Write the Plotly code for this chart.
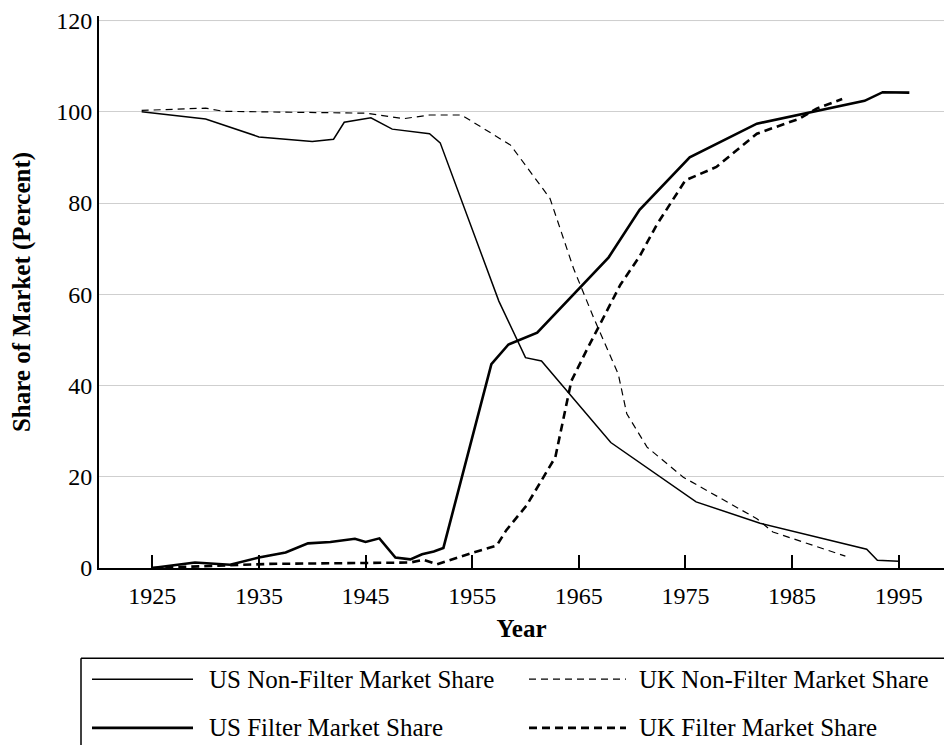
import plotly.graph_objects as go

# market share series (year, percent)
us_nonfilter_years = [1924, 1930, 1935, 1940, 1942, 1943, 1945.5, 1947.5, 1951, 1952,
                      1957.5, 1958.6, 1960, 1961.5, 1968, 1976, 1982, 1992, 1993, 1995]
us_nonfilter_share = [100, 98.4, 94.5, 93.5, 94.0, 97.7, 98.7, 96.2, 95.2, 93.2,
                      58.5, 53.0, 46.1, 45.4, 27.5, 14.5, 9.8, 4.1, 1.7, 1.5]

us_filter_years = [1925, 1929, 1932.3, 1935, 1937.5, 1939.6, 1941.7, 1944, 1945, 1946.3,
                   1947.8, 1949.2, 1950.3, 1951.4, 1952.3, 1956.8, 1958.4, 1961.1, 1967.8,
                   1970.7, 1975.4, 1981.7, 1991.8, 1993.5, 1996]
us_filter_share = [0, 1.2, 0.7, 2.3, 3.4, 5.4, 5.7, 6.4, 5.7, 6.5,
                   2.3, 1.9, 3.0, 3.6, 4.4, 44.7, 49.0, 51.6, 68.1,
                   78.5, 90.0, 97.4, 102.4, 104.3, 104.2]

uk_nonfilter_years = [1924, 1930, 1931.7, 1945, 1948.6, 1951, 1954, 1958.6, 1962.3, 1964.5,
                      1966.4, 1968.7, 1969.5, 1971.4, 1974.8, 1981.7, 1983.2, 1990]
uk_nonfilter_share = [100.3, 100.8, 100.1, 99.7, 98.5, 99.3, 99.3, 92.7, 81.0, 65.7,
                      54.8, 42.5, 33.8, 26.5, 19.9, 10.8, 7.9, 2.6]

uk_filter_years = [1925, 1932, 1936, 1949.2, 1950.4, 1951.7, 1955.1, 1957.3, 1958.2, 1960.1,
                   1962.8, 1964.3, 1965.7, 1968.9, 1970.7, 1972.3, 1975, 1977.9, 1981.7,
                   1985.7, 1987.3, 1989.7]
uk_filter_share = [0, 0.5, 0.9, 1.2, 1.8, 0.8, 3.4, 4.9, 8.3, 13.7,
                   24.3, 41.0, 47.6, 62.1, 68.3, 75.2, 85.0, 87.9, 95.2,
                   98.5, 100.7, 102.8]

year_ticks = [1925, 1935, 1945, 1955, 1965, 1975, 1985, 1995]
share_ticks = [0, 20, 40, 60, 80, 100, 120]

FONT = "Liberation Serif"
GRID = "#cfcfcf"

series = [
    ("US Non-Filter Market Share", us_nonfilter_years, us_nonfilter_share, 1.5, "solid"),
    ("UK Non-Filter Market Share", uk_nonfilter_years, uk_nonfilter_share, 1.2, "7px,5px"),
    ("US Filter Market Share", us_filter_years, us_filter_share, 2.6, "solid"),
    ("UK Filter Market Share", uk_filter_years, uk_filter_share, 2.6, "8px,5px"),
]

fig = go.Figure()
for name, xs, ys, w, dash in series:
    fig.add_trace(go.Scatter(x=xs, y=ys, mode="lines", name=name,
                             line=dict(color="black", width=w, dash=dash)))

# page body has an 8px margin; keep the figure inside the window so no scrollbars appear
fig.update_layout(
    width=936, height=737,
    margin=dict(l=91, r=0, t=4, b=177, pad=0),
    paper_bgcolor="white", plot_bgcolor="white",
    font=dict(family=FONT, size=24, color="black"),
    showlegend=False,
)

fig.update_xaxes(
    range=[1920, 1999.25], tickvals=year_ticks,
    ticks="inside", ticklen=13, tickwidth=2, tickcolor="black",
    showline=True, linecolor="black", linewidth=2,
    showgrid=False, zeroline=False,
    ticklabelstandoff=5,
    tickfont=dict(family=FONT, size=24),
    title=dict(text="Year", font=dict(family=FONT, size=25, weight="bold"), standoff=12),
)
fig.update_yaxes(
    range=[0, 121], tickvals=share_ticks,
    ticks="", showline=True, linecolor="black", linewidth=2,
    showgrid=True, gridcolor=GRID, gridwidth=1, zeroline=False,
    ticklabelstandoff=0, ticklabeloverflow="allow",
    tickfont=dict(family=FONT, size=24),
    title=dict(text="Share of Market (Percent)",
               font=dict(family=FONT, size=25, weight="bold"), standoff=18),
)

# make sure the top grid line (at the last tick) shows
fig.add_hline(y=share_ticks[-1], line=dict(color=GRID, width=1), layer="below")

# hand-drawn legend box below the plot, long line samples like the original
# (positions given in page pixels, plot area spans x 99..944, y 12..568)
def px_x(p):
    return (p - 99) / 845.0

def px_y(p):
    return (568 - p) / 556.0

# only the top and left edges of the frame are visible in the window
for x0, y0, x1, y1 in [(81, 659, 1000, 659), (81, 659, 81, 800)]:
    fig.add_shape(type="line", xref="paper", yref="paper",
                  x0=px_x(x0), x1=px_x(x1), y0=px_y(y0), y1=px_y(y1),
                  line=dict(color="black", width=1.5))

legend_spots = [(92, 193, 207, 680), (529, 626, 637, 680), (92, 193, 207, 729), (529, 626, 637, 729)]
for (name, xs, ys, w, dash), (lx0, lx1, tx, ly) in zip(series, legend_spots):
    fig.add_shape(type="line", xref="paper", yref="paper",
                  x0=px_x(lx0), x1=px_x(lx1), y0=px_y(ly), y1=px_y(ly),
                  line=dict(color="black", width=w, dash=dash))
    fig.add_annotation(xref="paper", yref="paper", x=px_x(tx), y=px_y(ly),
                       text=name, showarrow=False, xanchor="left", yanchor="middle",
                       font=dict(family=FONT, size=25, color="black"))

fig.write_html("out.html")
